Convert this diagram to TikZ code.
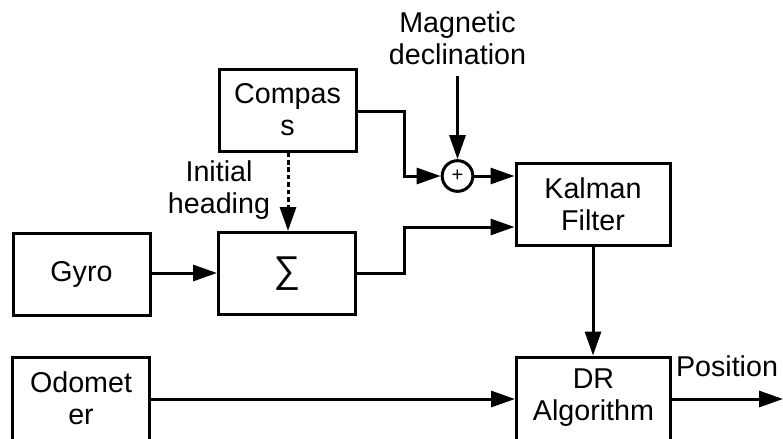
\documentclass[tikz,border=0pt]{standalone}
\usepackage{fontspec}
\setmainfont{Liberation Sans}
\usetikzlibrary{arrows.meta}
\begin{document}
\begin{tikzpicture}[x=0.75pt,y=-0.75pt,
  every node/.style={font=\fontsize{21.5}{24}\selectfont, align=center, inner sep=0pt},
  blk/.style={draw, line width=2.25pt, minimum height=61.5pt},
  narrow/.style={blk, minimum width=102.75pt},
  wide/.style={blk, minimum width=115.5pt},
  conn/.style={line width=2.25pt, -{Triangle[length=18pt,width=12pt]}},
  dashconn/.style={conn, dash pattern=on 3.4pt off 2.2pt}]
\useasboundingbox (0,0) rectangle (783,439);
\node[narrow] (compass) at (287.5,110) {Compas\\s};
\node[narrow] (gyro) at (81.5,274) {Gyro};
\node[narrow, font=\fontsize{28}{28}\selectfont] (sum) at (287,273.5) {\char"2211};
\node[wide] (kalman) at (593,204) {Kalman\\Filter};
\node[narrow, minimum height=66pt] (odo) at (81,401) {};
\node (odotext) at (81,398) {Odomet\\er};
\node[wide, minimum height=66pt] (dr) at (593.5,401) {};
\node (drtext) at (593.5,398) {DR\\Algorithm};
\node[draw, circle, line width=2.25pt, minimum size=23pt, font=\fontsize{15}{15}\selectfont] (plus) at (457.5,176) {+};
\node (mag) at (457.5,38) {Magnetic\\declination};
\node (init) at (219,190) {Initial\\heading};
\node (pos) at (727,366) {Position};
\coordinate (posend) at (783,399);
\coordinate (c1) at (404,111);
\coordinate (c2) at (404,227);
\coordinate (magtop) at (457.5,76);
% connectors
\draw[conn] (compass.east |- c1) -- (c1) |- (plus.west);
\draw[conn] (magtop) -- (plus.north);
\draw[conn] (plus.east) -- (kalman.west |- plus);
\draw[conn] (sum.east |- 0,273) -| (c2) -- (kalman.west |- c2);
\draw[conn] (gyro.east |- 0,273) -- (sum.west |- 0,273);
\draw[dashconn] (compass.south -| 288,0) -- (sum.north -| 288,0);
\draw[conn] (kalman.south) -- (dr.north -| kalman.south);
\draw[conn] (odo.east |- 0,399) -- (dr.west |- 0,399);
\draw[conn] (dr.east |- 0,399) -- (posend);
\end{tikzpicture}
\end{document}
